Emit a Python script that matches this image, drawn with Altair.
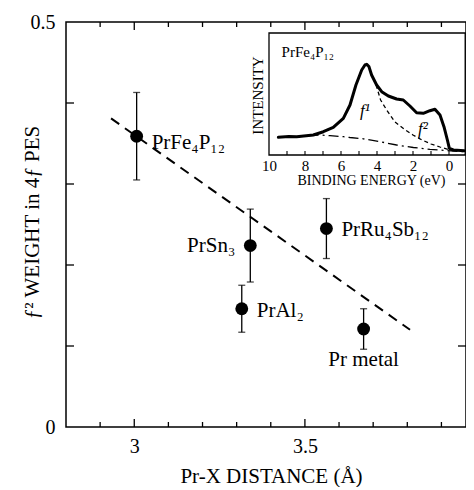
import altair as alt
import pandas as pd

FONT = "Liberation Serif"

# ---------------- main panel data ----------------
compounds = ["PrFe₄P₁₂", "PrSn₃", "PrAl₂", "PrRu₄Sb₁₂", "Pr metal"]
distance = [3.007, 3.340, 3.315, 3.563, 3.672]
f2_weight = [0.359, 0.224, 0.146, 0.245, 0.121]
weight_err = [0.054, 0.045, 0.029, 0.037, 0.025]

fit_distance = [2.932, 3.808]
fit_weight = [0.381, 0.120]

x_minor_ticks = [2.9, 3.1, 3.2, 3.3, 3.4, 3.6, 3.7, 3.8, 3.9]
x_major_ticks = [3.0, 3.5]
x_tick_labels = [3, 3.5]
y_ticks = [0.1, 0.2, 0.3, 0.4]
y_tick_labels = [0, 0.5]

# ---------------- inset data ----------------
spec_energy = [9.48, 8.9, 8.46, 7.54, 6.98, 6.43, 5.87, 5.5, 5.17, 4.85, 4.67, 4.57, 4.45,
               4.30, 4.02, 3.74, 3.37, 2.91, 2.54, 2.17, 1.80, 1.43, 1.06, 0.78, 0.5,
               0.28, 0.09, -0.02, -0.24, -0.85]
spec_intensity = [17.7, 18.5, 18.3, 20.0, 23.3, 27.7, 36.7, 50.0, 70.0, 85.0, 90.0, 90.7, 88.5,
                  80.0, 70.0, 63.3, 59.0, 56.0, 55.0, 49.0, 42.3, 41.7, 44.3, 45.7, 40.0,
                  28.3, 15.0, 6.7, 5.0, 4.3]

f1_energy = [4.05, 3.8, 3.46, 3.0, 2.5, 2.0, 1.5, 1.0, 0.5, 0.06]
f1_intensity = [70.0, 55.0, 45.0, 33.0, 26.0, 20.0, 15.0, 11.0, 8.0, 5.7]

bg_energy = [7.8, 7.17, 6.61, 5.87, 5.5, 4.76, 3.83, 2.91, 1.98, 1.06, 0.15, -0.85]
bg_intensity = [19.5, 20.0, 19.3, 18.3, 17.5, 16.2, 13.3, 10.0, 7.5, 5.7, 4.5, 3.3]

inset_tick_energy = [9, 8, 7, 6, 5, 4, 3, 2, 1, 0]
inset_tick_labels = [10, 8, 6, 4, 2, 0]

W, H = 400, 405

# ---------------- main panel ----------------
x_scale = alt.Scale(domain=[2.8, 3.972], nice=False, zero=False)
y_scale = alt.Scale(domain=[0, 0.5], nice=False, zero=False)

pts = pd.DataFrame({"compound": compounds, "distance": distance,
                    "weight": f2_weight, "err": weight_err})
pts["lo"] = pts["weight"] - pts["err"]
pts["hi"] = pts["weight"] + pts["err"]
base = alt.Chart(pts)


def mx(field, axis=None):
    return alt.X(field, type="quantitative", scale=x_scale, axis=axis)


def my(field, axis=None):
    return alt.Y(field, type="quantitative", scale=y_scale, axis=axis)


x_axis = alt.Axis(orient="bottom", values=x_tick_labels, labelExpr="'' + datum.value",
                  ticks=False, domain=False, grid=False, labelFlush=False,
                  labelFontSize=20, labelPadding=9, labelFont=FONT, labelColor="black",
                  title="Pr-X DISTANCE (Å)", titleFontSize=21, titleFont=FONT,
                  titleColor="black", titleFontWeight="normal", titleX=205, titleY=55,
                  titleBaseline="alphabetic")
y_axis = alt.Axis(orient="left", values=y_tick_labels, labelExpr="'' + datum.value",
                  ticks=False, domain=False, grid=False, labelFlush=False,
                  labelFontSize=20, labelPadding=11, labelFont=FONT, labelColor="black",
                  title="ƒ² WEIGHT in 4ƒ PES", titleFontSize=21, titleFont=FONT,
                  titleColor="black", titleFontWeight="normal", titleX=-28, titleY=200,
                  titleAngle=270, titleBaseline="alphabetic")

err_rules = base.mark_rule(color="black", strokeWidth=1.3).encode(
    x=mx("distance"), y=my("lo"), y2="hi")
cap_lo = base.mark_tick(color="black", orient="horizontal", size=7, thickness=1.3).encode(
    x=mx("distance"), y=my("lo"))
cap_hi = base.mark_tick(color="black", orient="horizontal", size=7, thickness=1.3).encode(
    x=mx("distance"), y=my("hi"))
dots = base.mark_circle(color="black", size=165, opacity=1).encode(
    x=mx("distance", x_axis), y=my("weight", y_axis))

fit = alt.Chart(pd.DataFrame({"distance": fit_distance, "weight": fit_weight})).mark_line(
    color="black", strokeWidth=2, strokeDash=[10, 7]).encode(
    x=mx("distance"), y=my("weight"))


def label(name, align, dx, dy):
    return base.transform_filter(alt.datum.compound == name).mark_text(
        font=FONT, fontSize=21, color="black", align=align, baseline="alphabetic",
        dx=dx, dy=dy).encode(x=mx("distance"), y=my("weight"), text="compound:N")


labels = [
    label("PrFe₄P₁₂", "left", 15, 13),
    label("PrSn₃", "right", -15, 6),
    label("PrAl₂", "left", 15, 8),
    label("PrRu₄Sb₁₂", "left", 15, 7),
    label("Pr metal", "center", 0, 37),
]

xminor = alt.Chart(pd.DataFrame({"t": x_minor_ticks}))
xmajor = alt.Chart(pd.DataFrame({"t": x_major_ticks}))
yt = alt.Chart(pd.DataFrame({"t": y_ticks}))
tick_style = dict(color="black", strokeWidth=1.3)
ticks = [
    xminor.mark_rule(**tick_style).encode(x=mx("t"), y=alt.value(H), y2=alt.value(H - 5)),
    xminor.mark_rule(**tick_style).encode(x=mx("t"), y=alt.value(0), y2=alt.value(5)),
    xmajor.mark_rule(**tick_style).encode(x=mx("t"), y=alt.value(H), y2=alt.value(H - 8)),
    xmajor.mark_rule(**tick_style).encode(x=mx("t"), y=alt.value(0), y2=alt.value(8)),
    yt.mark_rule(**tick_style).encode(y=my("t"), x=alt.value(0), x2=alt.value(8)),
    yt.mark_rule(**tick_style).encode(y=my("t"), x=alt.value(W), x2=alt.value(W - 8)),
]

# ---------------- inset ----------------
ix_scale = alt.Scale(domain=[10, -0.9], range=[203, 399.2], nice=False, zero=False)
iy_scale = alt.Scale(domain=[0, 122], range=[133, 11], nice=False, zero=False)


def ix(field, axis=None):
    return alt.X(field, type="quantitative", scale=ix_scale, axis=axis)


def iy(field, axis=None):
    return alt.Y(field, type="quantitative", scale=iy_scale, axis=axis)


ix_axis = alt.Axis(orient="bottom", offset=-272, values=inset_tick_labels,
                   labelExpr="'' + datum.value", ticks=False, domain=False, grid=False,
                   labelFlush=False, labelFontSize=15, labelPadding=3, labelFont=FONT,
                   labelColor="black", title="BINDING ENERGY (eV)", titleFontSize=14,
                   titleFont=FONT, titleColor="black", titleFontWeight="normal",
                   titleX=305, titleY=29, titleBaseline="alphabetic")
iy_axis = alt.Axis(orient="left", offset=-203, labels=False, ticks=False, domain=False,
                   grid=False, title="INTENSITY", titleFontSize=15, titleFont=FONT,
                   titleColor="black", titleFontWeight="normal", titleX=-7, titleY=73,
                   titleAngle=270, titleBaseline="alphabetic")

spec = alt.Chart(pd.DataFrame({"e": spec_energy, "i": spec_intensity})).mark_line(
    color="black", strokeWidth=3, strokeCap="round", strokeJoin="round").encode(
    x=ix("e", ix_axis), y=iy("i", iy_axis), order="e:Q")
f1 = alt.Chart(pd.DataFrame({"e": f1_energy, "i": f1_intensity})).mark_line(
    color="black", strokeWidth=1.3, strokeDash=[4, 3]).encode(
    x=ix("e"), y=iy("i"))
bg = alt.Chart(pd.DataFrame({"e": bg_energy, "i": bg_intensity})).mark_line(
    color="black", strokeWidth=1.3, strokeDash=[10, 4, 2, 4]).encode(
    x=ix("e"), y=iy("i"))

frame = alt.Chart(pd.DataFrame({"a": [0]})).mark_rect(
    fillOpacity=0, stroke="black", strokeWidth=1.3).encode(
    x=alt.X(datum=10, type="quantitative", scale=ix_scale, axis=None),
    x2=alt.X2(datum=-0.9),
    y=alt.Y(datum=0, type="quantitative", scale=iy_scale, axis=None),
    y2=alt.Y2(datum=122))

iticks = alt.Chart(pd.DataFrame({"e": inset_tick_energy})).mark_rule(
    color="black", strokeWidth=1.1).encode(
    x=ix("e"), y=alt.value(133), y2=alt.value(129))

itext = alt.Chart(pd.DataFrame({"e": [9.3], "i": [97.7], "t": ["PrFe₄P₁₂"]})).mark_text(
    font=FONT, fontSize=15, color="black", align="left", baseline="alphabetic").encode(
    x=ix("e"), y=iy("i"), text="t:N")
fl = alt.Chart(pd.DataFrame({"e": [4.94, 1.72], "i": [39, 21], "t": ["f¹", "f²"]})).mark_text(
    font=FONT, fontSize=17, fontStyle="italic", color="black", align="left",
    baseline="alphabetic").encode(x=ix("e"), y=iy("i"), text="t:N")

chart = alt.layer(
    fit, err_rules, cap_lo, cap_hi, dots, *labels, *ticks,
    frame, bg, f1, spec, iticks, itext, fl,
).resolve_scale(x="independent", y="independent").properties(
    width=W, height=H, autosize=alt.AutoSizeParams(type="none"),
    padding={"left": 58, "top": 14, "right": 0, "bottom": 60},
).configure(font=FONT).configure_axis(labelFont=FONT, titleFont=FONT).configure_view(
    stroke="black", strokeWidth=1.5)

chart.save("out.html", embed_options={"renderer": "svg", "actions": False})
